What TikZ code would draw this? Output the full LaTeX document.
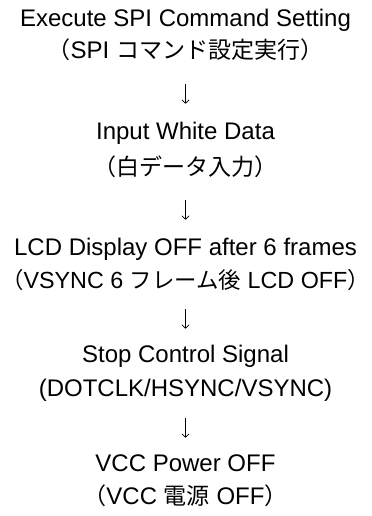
\documentclass[tikz,border=0pt]{standalone}
\usepackage{fontspec}
\setmainfont{Liberation Sans}
\newfontfamily\jp[Scale=0.96]{Noto Sans CJK JP}
\usetikzlibrary{arrows.meta}

% full-width brackets, trimmed to their ink
\newcommand\jlp{\kern-.45em{\jp （}}
\newcommand\jrp{{\jp ）}\kern-.45em}

\begin{document}
\begin{tikzpicture}[x=0.75pt,y=-0.75pt,font=\fontsize{18pt}{21pt}\selectfont,
  txt/.style={inner sep=0pt, anchor=base, text height=12.75pt, text depth=3pt},
  flow/.style={-{Straight Barb[length=2.6pt,width=5.5pt]}, line width=0.5pt}]

\useasboundingbox (0,0) rectangle (371,516);

% step 1
\node[txt] (cmd)   at (185.5,27)  {Execute SPI Command Setting};
\node[txt] (cmdj)  at (185.5,59)  {\jlp SPI {\jp コマンド設定実行}\jrp};

% step 2
\node[txt] (white)  at (185.5,140) {Input White Data};
\node[txt] (whitej) at (185.5,176) {\jlp{\jp 白データ入力}\jrp};

% step 3
\node[txt] (lcd)   at (185.5,255) {LCD Display OFF after 6 frames};
\node[txt, font=\fontsize{17.5pt}{21pt}\selectfont] (lcdj) at (185.5,288)
  {\jlp VSYNC 6 {\jp フレーム後} LCD OFF\jrp};

% step 4
\node[txt] (sig)   at (185.5,362) {Stop Control Signal};
\node[txt] (sigj)  at (185.5,396) {(DOTCLK/HSYNC/VSYNC)};

% step 5
\node[txt] (vcc)   at (185.5,471) {VCC Power OFF};
\node[txt] (vccj)  at (185.5,504) {\jlp VCC {\jp 電源} OFF\jrp};

\draw[flow, shorten <=15.75pt, shorten >=14.25pt] (cmdj) -- (white);
\draw[flow, shorten <=15pt, shorten >=13.5pt] (whitej) -- (lcd);
\draw[flow, shorten <=12.75pt, shorten >=12pt] (lcdj) -- (sig);
\draw[flow, shorten <=13.5pt, shorten >=12pt] (sigj) -- (vcc);

\end{tikzpicture}
\end{document}
